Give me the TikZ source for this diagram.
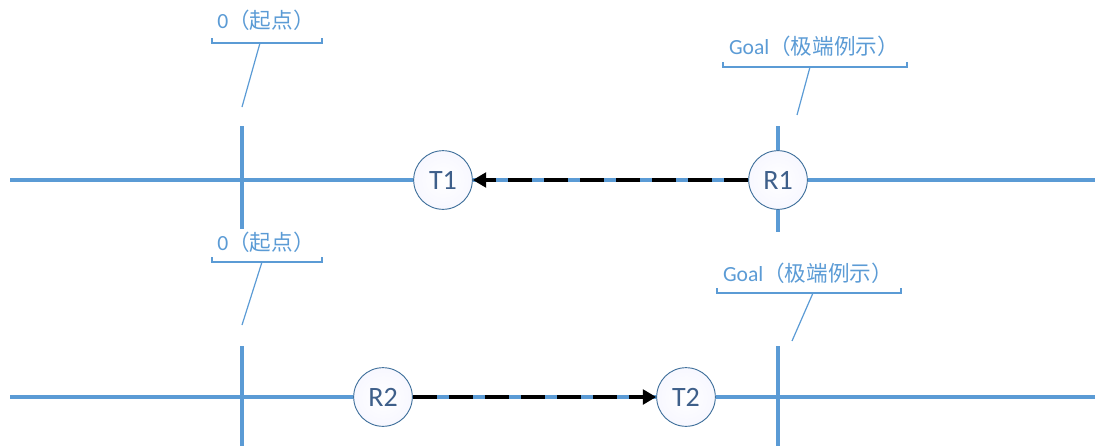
\documentclass[tikz,border=0pt]{standalone}
\usepackage{fontspec}
\setmainfont{Carlito}
\newfontfamily\cjk{Noto Sans CJK SC}
\usetikzlibrary{arrows.meta}
\definecolor{axisblue}{HTML}{5B9BD5}
\definecolor{circedge}{HTML}{41719C}
\definecolor{circtext}{HTML}{3E5F8A}
\definecolor{calltext}{HTML}{5B9BD5}
\tikzset{
  axis/.style={draw=axisblue, line width=3pt},
  tick/.style={draw=axisblue, line width=3pt},
  circ/.style={circle, draw=circedge, line width=0.7pt, inner color=white, outer color=blue!3, minimum size=44pt, inner sep=0pt, font=\fontsize{21}{23}\selectfont, text=circtext},
  mv/.style={draw=black, line width=2.4pt, dash pattern=on 18pt off 9pt, -{Triangle[length=10pt,width=11pt]}},
  calltxt/.style={font=\fontsize{16.2}{18}\selectfont, text=calltext, inner sep=0pt},
  bracket/.style={draw=axisblue, line width=0.9pt},
  leader/.style={draw=axisblue, line width=0.9pt}
}
\begin{document}
\begin{tikzpicture}[x=0.75pt,y=-0.75pt]
\useasboundingbox (0,0) rectangle (1095,446);
% axes
\draw[axis] (10,180) -- (1095,180);
\draw[axis] (10,397) -- (1095,397);
\draw[tick] (242,126) -- (242,229);
\draw[tick] (778,126) -- (778,232);
\draw[tick] (242,346) -- (242,446);
\draw[tick] (778,346) -- (778,446);
% nodes
\node[circ] (T1) at (443,180) {T1};
\node[circ] (R1) at (778,180) {R1};
\node[circ] (R2) at (383,397) {R2};
\node[circ] (T2) at (686,397) {T2};
\draw[mv] (R1) -- (T1);
\draw[mv] (R2) -- (T2);
% callouts
\node[calltxt] (c1) at (266,20) {0{\cjk（起点）}};
\draw[bracket] (212,38) -- (212,43) -- (322,43) -- (322,38);
\coordinate (c1b) at (260,43);
\coordinate (c1e) at (242,107);
\draw[leader] (c1b) -- (c1e);

\node[calltxt] (c2) at (814,46) {Goal{\cjk（极端例示）}};
\draw[bracket] (723,62) -- (723,67) -- (907,67) -- (907,62);
\coordinate (c2b) at (810,67);
\coordinate (c2e) at (797,115);
\draw[leader] (c2b) -- (c2e);

\node[calltxt] (c3) at (266,242) {0{\cjk（起点）}};
\draw[bracket] (212,257) -- (212,262) -- (322,262) -- (322,257);
\coordinate (c3b) at (262,262);
\coordinate (c3e) at (242,325);
\draw[leader] (c3b) -- (c3e);

\node[calltxt] (c4) at (808,273) {Goal{\cjk（极端例示）}};
\draw[bracket] (717,288) -- (717,293) -- (901,293) -- (901,288);
\coordinate (c4b) at (813,293);
\coordinate (c4e) at (792,341);
\draw[leader] (c4b) -- (c4e);
\end{tikzpicture}
\end{document}
